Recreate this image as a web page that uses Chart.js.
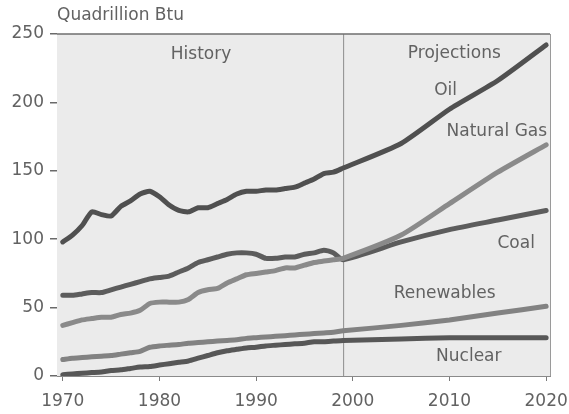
<!DOCTYPE html>
<html>
<head>
<meta charset="utf-8">
<script src="https://cdn.jsdelivr.net/npm/chart.js@4/dist/chart.umd.min.js"></script>
<style>
  html, body { margin: 0; padding: 0; background: #fff; }
  #wrap { width: 569px; height: 414px; position: relative; }
</style>
</head>
<body>
<div id="wrap"><canvas id="energyChart"></canvas></div>
<script>
// world energy consumption by fuel, history + projections
const years = [1970, 1971, 1972, 1973, 1974, 1975, 1976, 1977, 1978, 1979,
  1980, 1981, 1982, 1983, 1984, 1985, 1986, 1987, 1988, 1989,
  1990, 1991, 1992, 1993, 1994, 1995, 1996, 1997, 1998, 1999,
  2005, 2010, 2015, 2020];

const oil = [98, 103, 110, 120, 118, 117, 124, 128, 133, 135,
  131, 125, 121, 120, 123, 123, 126, 129, 133, 135,
  135, 136, 136, 137, 138, 141, 144, 148, 149, 152,
  170, 195, 216, 242];

const naturalGas = [37, 39, 41, 42, 43, 43, 45, 46, 48, 53,
  54, 54, 54, 56, 61, 63, 64, 68, 71, 74,
  75, 76, 77, 79, 79, 81, 83, 84, 85, 86,
  103, 126, 149, 169];

const coal = [59, 59, 60, 61, 61, 63, 65, 67, 69, 71,
  72, 73, 76, 79, 83, 85, 87, 89, 90, 90,
  89, 86, 86, 87, 87, 89, 90, 92, 90, 85,
  98, 107, 114, 121];

const renewables = [12, 13, 13.5, 14, 14.5, 15, 16, 17, 18, 21,
  22, 22.5, 23, 24, 24.5, 25, 25.5, 26, 26.5, 27.5,
  28, 28.5, 29, 29.5, 30, 30.5, 31, 31.5, 32, 33,
  37, 41, 46, 51];

const nuclear = [1, 1.5, 2, 2.5, 3, 4, 4.5, 5.5, 6.5, 7,
  8, 9, 10, 11, 13, 15, 17, 18.5, 19.5, 20.5,
  21, 22, 22.5, 23, 23.5, 24, 25, 25, 25.5, 26,
  27, 28, 28, 28];

const xTicks = [1970, 1980, 1990, 2000, 2010, 2020];
const yTicks = [0, 50, 100, 150, 200, 250];
const splitYear = 1999;

const FONT = "'DejaVu Sans', 'Liberation Sans', sans-serif";
const textColor = '#626262';

function pts(values) {
  return values.map((v, i) => ({ x: years[i], y: v }));
}

function series(label, values, color) {
  return {
    label: label,
    data: pts(values),
    borderColor: color,
    borderWidth: 5,
    pointRadius: 0,
    tension: 0.2,
    borderJoinStyle: 'round',
    borderCapStyle: 'round',
    fill: false
  };
}

// background, frame, divider line and the in-plot labels
const decor = {
  id: 'decor',
  beforeDatasetsDraw(chart) {
    const { ctx, chartArea: a, scales } = chart;
    ctx.save();
    ctx.fillStyle = '#ebebeb';
    ctx.fillRect(a.left, a.top, a.right - a.left, a.bottom - a.top);
    const xs = scales.x.getPixelForValue(splitYear);
    ctx.strokeStyle = '#8c8c8c';
    ctx.lineWidth = 1;
    ctx.beginPath();
    ctx.moveTo(xs + 0.5, a.top);
    ctx.lineTo(xs + 0.5, a.bottom);
    ctx.stroke();
    ctx.restore();
  },
  afterDraw(chart) {
    const { ctx, chartArea: a, scales } = chart;
    ctx.save();
    ctx.strokeStyle = '#6e6e6e';
    ctx.lineWidth = 1.5;
    ctx.beginPath();
    ctx.moveTo(a.left, a.top);
    ctx.lineTo(a.right, a.top);
    ctx.stroke();
    ctx.strokeStyle = '#9a9a9a';
    ctx.lineWidth = 1;
    ctx.beginPath();
    ctx.moveTo(a.right + 0.5, a.top);
    ctx.lineTo(a.right + 0.5, a.bottom);
    ctx.stroke();

    ctx.fillStyle = textColor;
    ctx.font = '17px ' + FONT;
    ctx.textBaseline = 'middle';
    ctx.textAlign = 'left';
    ctx.fillText('Quadrillion Btu', a.left, 16);

    const x = v => scales.x.getPixelForValue(v);
    const y = v => scales.y.getPixelForValue(v);
    ctx.textAlign = 'center';
    const labels = [
      ['History', 1984.3, 235],
      ['Projections', 2010.5, 236],
      ['Oil', 2009.6, 209],
      ['Natural Gas', 2014.9, 179],
      ['Coal', 2016.9, 97],
      ['Renewables', 2009.5, 60],
      ['Nuclear', 2012, 14]
    ];
    labels.forEach(l => ctx.fillText(l[0], x(l[1]), y(l[2])));
    ctx.restore();
  }
};

const ctx = document.getElementById('energyChart').getContext('2d');
new Chart(ctx, {
  type: 'line',
  data: {
    datasets: [
      series('Oil', oil, '#505050'),
      series('Natural Gas', naturalGas, '#8a8a8a'),
      series('Coal', coal, '#5c5c5c'),
      series('Renewables', renewables, '#828282'),
      series('Nuclear', nuclear, '#575757')
    ]
  },
  options: {
    responsive: true,
    maintainAspectRatio: false,
    animation: false,
    layout: { padding: { top: 34, right: 19, left: 0, bottom: 0 } },
    plugins: {
      legend: { display: false },
      title: { display: false },
      tooltip: { enabled: false }
    },
    scales: {
      x: {
        type: 'linear',
        min: 1969.4,
        max: 2020.4,
        afterBuildTicks: s => { s.ticks = xTicks.map(v => ({ value: v })); },
        afterFit: s => {
          s.height = 38;
          s.paddingLeft = 0;
          s.paddingRight = 0;
        },
        ticks: {
          autoSkip: false,
          maxRotation: 0,
          padding: 10,
          color: textColor,
          font: { family: FONT, size: 17 },
          callback: v => String(v)
        },
        grid: { drawOnChartArea: false, drawTicks: true, tickLength: 5, color: '#7a7a7a' },
        border: { color: '#8a8a8a', width: 1 }
      },
      y: {
        min: 0,
        max: 250,
        afterBuildTicks: s => { s.ticks = yTicks.map(v => ({ value: v })); },
        afterFit: s => {
          s.width = 57;
          s.paddingTop = 0;
          s.paddingBottom = 0;
        },
        ticks: {
          padding: 6,
          color: textColor,
          font: { family: FONT, size: 17 },
          callback: v => String(v)
        },
        grid: { drawOnChartArea: false, drawTicks: true, tickLength: 7, color: '#6a6a6a', lineWidth: 1.5 },
        border: { color: '#8a8a8a', width: 1 }
      }
    }
  },
  plugins: [decor]
});
</script>
</body>
</html>
